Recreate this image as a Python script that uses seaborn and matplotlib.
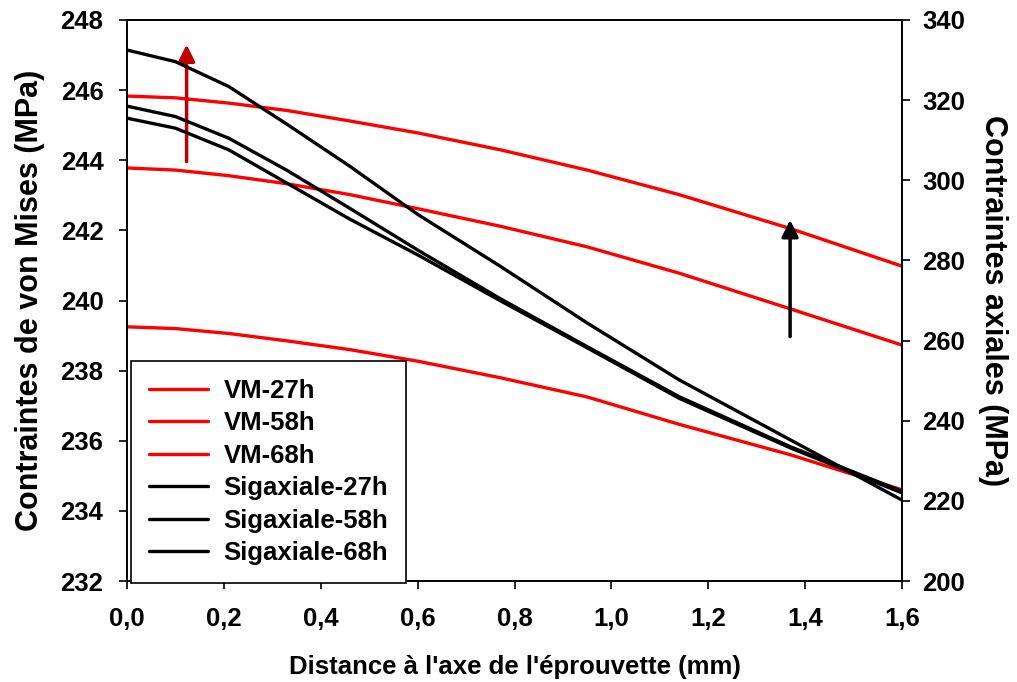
import matplotlib
matplotlib.use("Agg")
import matplotlib.pyplot as plt
import seaborn as sns
import pandas as pd

# ---- data ----
distance = [0.0, 0.1, 0.21, 0.33, 0.46, 0.6, 0.77, 0.95, 1.14, 1.37, 1.6]

vm_27h = [239.25, 239.20, 239.06, 238.85, 238.60, 238.27, 237.80, 237.25, 236.47, 235.60, 234.60]
vm_58h = [243.78, 243.72, 243.56, 243.33, 243.02, 242.62, 242.12, 241.53, 240.78, 239.76, 238.73]
vm_68h = [245.83, 245.78, 245.63, 245.42, 245.12, 244.78, 244.30, 243.72, 243.02, 242.05, 240.98]

sig_27h = [315.5, 313.0, 307.6, 299.3, 290.3, 281.4, 270.0, 258.2, 245.6, 233.2, 222.0]
sig_58h = [318.5, 315.9, 310.5, 302.5, 293.0, 282.6, 270.5, 258.5, 246.0, 233.5, 222.4]
sig_68h = [332.5, 329.6, 323.4, 314.0, 303.5, 291.5, 278.6, 264.4, 250.2, 235.2, 220.2]

vm_labels = ["VM-27h", "VM-58h", "VM-68h"]
sig_labels = ["Sigaxiale-27h", "Sigaxiale-58h", "Sigaxiale-68h"]

x_ticks = [0.0, 0.2, 0.4, 0.6, 0.8, 1.0, 1.2, 1.4, 1.6]
x_tick_labels = ["0,0", "0,2", "0,4", "0,6", "0,8", "1,0", "1,2", "1,4", "1,6"]
left_ticks = [232, 234, 236, 238, 240, 242, 244, 246, 248]
right_ticks = [200, 220, 240, 260, 280, 300, 320, 340]

# ---- style ----
sns.set_theme(style="ticks")
plt.rcParams['font.family'] = ['Liberation Sans', 'DejaVu Sans']
plt.rcParams['font.weight'] = 'bold'
plt.rcParams['axes.edgecolor'] = 'black'
plt.rcParams['xtick.color'] = 'black'
plt.rcParams['ytick.color'] = 'black'
plt.rcParams['text.color'] = 'black'
plt.rcParams['axes.labelcolor'] = 'black'

FS = 18.5

fig = plt.figure(figsize=(10.17, 6.82), dpi=100)
ax = fig.add_axes([0.1249, 0.148, 0.762, 0.8227])
ax2 = ax.twinx()

for vals, lab in zip([vm_27h, vm_58h, vm_68h], vm_labels):
    df = pd.DataFrame({"x": distance, "y": vals})
    sns.lineplot(data=df, x="x", y="y", ax=ax, color="#FF0000", lw=2.4, label=lab)

for vals, lab in zip([sig_27h, sig_58h, sig_68h], sig_labels):
    df = pd.DataFrame({"x": distance, "y": vals})
    sns.lineplot(data=df, x="x", y="y", ax=ax2, color="black", lw=2.4, label=lab)

h1, l1 = ax.get_legend_handles_labels()
h2, l2 = ax2.get_legend_handles_labels()
for a in (ax, ax2):
    if a.get_legend() is not None:
        a.get_legend().remove()

ax.set_xlim(0, 1.6)
ax.set_ylim(232, 248)
ax2.set_ylim(200, 340)
ax.set_xticks(x_ticks)
ax.set_xticklabels(x_tick_labels)
ax.set_yticks(left_ticks)
ax2.set_yticks(right_ticks)

for a in (ax, ax2):
    a.tick_params(axis='both', direction='out', length=6, width=1.2, labelsize=FS)
    for s in a.spines.values():
        s.set_linewidth(1.2)
        s.set_color('black')
ax.tick_params(axis='x', pad=13)
ax.tick_params(axis='y', pad=11)
ax2.tick_params(axis='y', pad=8.5)
for lbl in ax.get_xticklabels() + ax.get_yticklabels() + ax2.get_yticklabels():
    lbl.set_fontweight('bold')

ax.set_xlabel("Distance à l'axe de l'éprouvette (mm)", fontsize=FS, fontweight='bold', labelpad=17)
ax.set_ylabel("Contraintes de von Mises (MPa)", fontsize=22, fontweight='bold', labelpad=11)
ax2.set_ylabel("Contraintes axiales (MPa)", fontsize=22, fontweight='bold', rotation=270, labelpad=31)

# arrows
ax.annotate("", xy=(0.123, 247.3), xytext=(0.123, 243.96),
            arrowprops=dict(arrowstyle='-|>', color='#C00000', lw=2.5,
                            mutation_scale=25, shrinkA=0, shrinkB=0))
ax2.annotate("", xy=(1.369, 290.1), xytext=(1.369, 261.0),
             arrowprops=dict(arrowstyle='-|>', color='black', lw=2.5,
                             mutation_scale=25, shrinkA=0, shrinkB=0))

leg = ax2.legend(h1 + h2, l1 + l2, loc='lower left', bbox_to_anchor=(0.005, -0.004),
                 frameon=True, fancybox=False, edgecolor='black', framealpha=1,
                 fontsize=FS, handlelength=2.3, handletextpad=0.6,
                 labelspacing=0.33, borderpad=0.7, borderaxespad=0)
leg.get_frame().set_linewidth(1.2)
for t in leg.get_texts():
    t.set_fontweight('bold')
leg.set_zorder(10)

ax.set_zorder(ax2.get_zorder() - 1)
ax2.patch.set_visible(False)

fig.savefig("out.png", dpi=100)
